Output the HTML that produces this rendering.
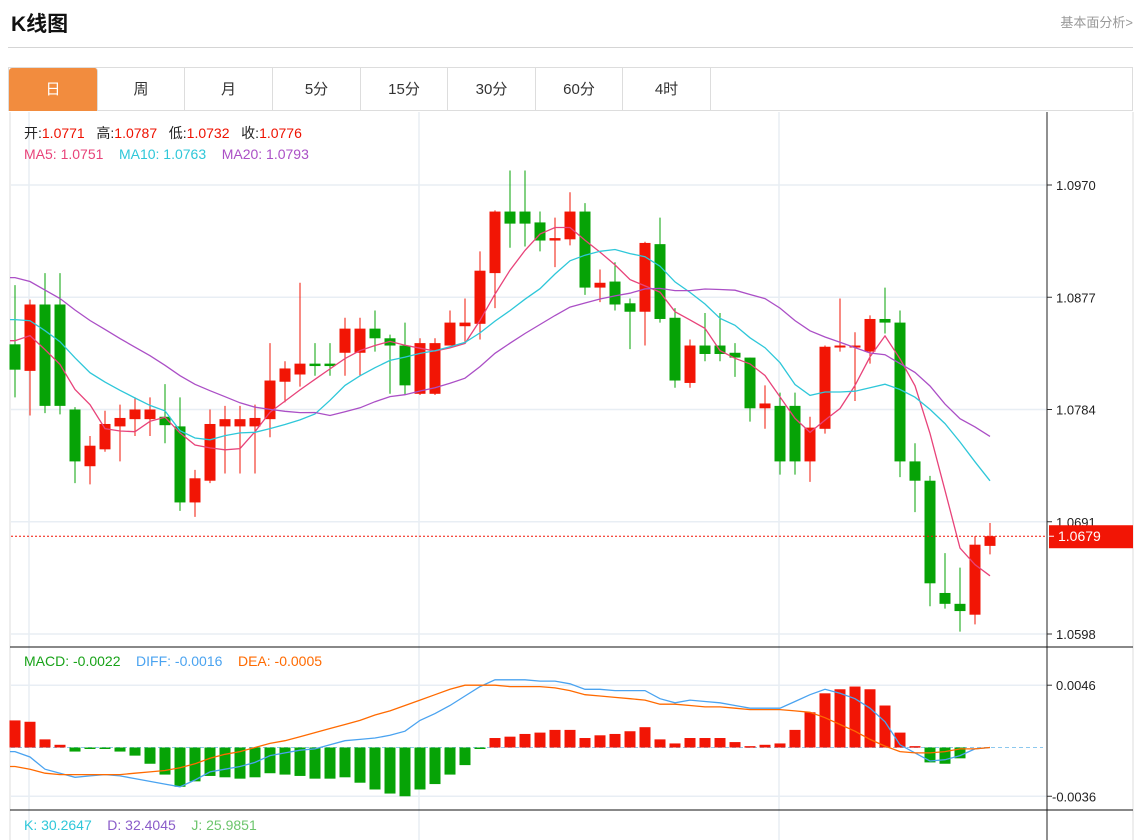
<!DOCTYPE html>
<html><head><meta charset="utf-8"><style>
body{margin:0;width:1137px;height:840px;overflow:hidden;background:#fff;font-family:"Liberation Sans","Noto Sans CJK SC",sans-serif;position:relative}
.t{position:absolute;white-space:nowrap}
.tab{position:absolute;top:68px;height:43px;line-height:43px;text-align:center;font-size:15px;color:#333;border-right:1px solid #ddd;box-sizing:border-box}
</style></head><body>
<div class="t" style="left:11px;top:8px;font-size:21px;font-weight:bold;color:#111">K线图</div>
<div class="t" style="right:4px;top:12px;font-size:13px;color:#999">基本面分析&gt;</div>
<div style="position:absolute;left:8px;top:47px;width:1125px;height:1px;background:#d5d5d5"></div>
<div style="position:absolute;left:8px;top:67px;width:1125px;height:44px;border:1px solid #ddd;box-sizing:border-box"></div>
<div class="tab" style="left:9px;width:89px;background:#f28c3e;color:#fff;border-radius:3px 3px 0 0">日</div>
<div class="tab" style="left:98px;width:87px">周</div>
<div class="tab" style="left:185px;width:88px">月</div>
<div class="tab" style="left:273px;width:88px">5分</div>
<div class="tab" style="left:361px;width:87px">15分</div>
<div class="tab" style="left:448px;width:88px">30分</div>
<div class="tab" style="left:536px;width:87px">60分</div>
<div class="tab" style="left:623px;width:88px">4时</div>
<svg id="c" width="1137" height="840" style="position:absolute;left:0;top:0" xmlns="http://www.w3.org/2000/svg"></svg>
<div class="t" style="left:24px;top:123px;font-size:14px;color:#222">开:<span style="color:#ee1100">1.0771</span>&nbsp;&nbsp; 高:<span style="color:#ee1100">1.0787</span>&nbsp;&nbsp; 低:<span style="color:#ee1100">1.0732</span>&nbsp;&nbsp; 收:<span style="color:#ee1100">1.0776</span></div>
<div class="t" style="left:24px;top:146px;font-size:14px"><span style="color:#e8437a">MA5: 1.0751</span>&nbsp;&nbsp;&nbsp; <span style="color:#2ec7d9">MA10: 1.0763</span>&nbsp;&nbsp;&nbsp; <span style="color:#ab4fc6">MA20: 1.0793</span></div>
<div class="t" style="left:24px;top:653px;font-size:14px"><span style="color:#19a319">MACD: -0.0022</span>&nbsp;&nbsp;&nbsp; <span style="color:#4aa3f0">DIFF: -0.0016</span>&nbsp;&nbsp;&nbsp; <span style="color:#ff6a00">DEA: -0.0005</span></div>
<div class="t" style="left:24px;top:817px;font-size:14px"><span style="color:#2ec7d9">K: 30.2647</span>&nbsp;&nbsp;&nbsp; <span style="color:#8a5cc9">D: 32.4045</span>&nbsp;&nbsp;&nbsp; <span style="color:#6cc56c">J: 25.9851</span></div>
<script>
const opens=[1.0838,1.0816,1.0871,1.0871,1.0784,1.0737,1.0751,1.0770,1.0776,1.0776,1.0778,1.0770,1.0707,1.0725,1.0770,1.0770,1.0770,1.0776,1.0807,1.0813,1.0822,1.0822,1.0831,1.0831,1.0851,1.0843,1.0837,1.0797,1.0797,1.0837,1.0853,1.0855,1.0897,1.0948,1.0948,1.0939,1.0924,1.0925,1.0948,1.0885,1.0890,1.0872,1.0865,1.0921,1.0860,1.0806,1.0837,1.0837,1.0831,1.0827,1.0785,1.0787,1.0787,1.0741,1.0768,1.0836,1.0836,1.0832,1.0859,1.0856,1.0741,1.0725,1.0632,1.0623,1.0614,1.0671];
const highs=[1.0887,1.0875,1.0897,1.0897,1.0786,1.0762,1.0783,1.0788,1.0794,1.0794,1.0805,1.0794,1.0734,1.0784,1.0787,1.0787,1.0788,1.0839,1.0824,1.0889,1.0839,1.0839,1.0860,1.0860,1.0866,1.0846,1.0856,1.0843,1.0843,1.0866,1.0876,1.0915,1.0949,1.0982,1.0982,1.0948,1.0943,1.0964,1.0955,1.0900,1.0906,1.0876,1.0923,1.0943,1.0868,1.0842,1.0864,1.0864,1.0839,1.0827,1.0804,1.0798,1.0798,1.0778,1.0837,1.0876,1.0848,1.0862,1.0885,1.0866,1.0756,1.0729,1.0665,1.0653,1.0679,1.0690];
const lows=[1.0794,1.0779,1.0781,1.0780,1.0723,1.0722,1.0749,1.0741,1.0762,1.0762,1.0756,1.0700,1.0695,1.0723,1.0731,1.0731,1.0731,1.0761,1.0790,1.0803,1.0812,1.0812,1.0812,1.0812,1.0832,1.0797,1.0796,1.0796,1.0796,1.0837,1.0840,1.0842,1.0868,1.0918,1.0919,1.0915,1.0902,1.0920,1.0879,1.0873,1.0866,1.0834,1.0837,1.0856,1.0802,1.0802,1.0824,1.0824,1.0811,1.0774,1.0768,1.0730,1.0730,1.0724,1.0764,1.0832,1.0791,1.0822,1.0847,1.0728,1.0699,1.0621,1.0619,1.0600,1.0606,1.0664];
const closes=[1.0817,1.0871,1.0787,1.0787,1.0741,1.0754,1.0772,1.0777,1.0784,1.0784,1.0771,1.0707,1.0727,1.0772,1.0776,1.0776,1.0777,1.0808,1.0818,1.0822,1.0820,1.0820,1.0851,1.0851,1.0843,1.0837,1.0804,1.0839,1.0839,1.0856,1.0856,1.0899,1.0948,1.0938,1.0938,1.0924,1.0926,1.0948,1.0885,1.0889,1.0871,1.0865,1.0922,1.0859,1.0808,1.0837,1.0830,1.0830,1.0827,1.0785,1.0789,1.0741,1.0741,1.0769,1.0836,1.0837,1.0837,1.0859,1.0856,1.0741,1.0725,1.0640,1.0623,1.0617,1.0672,1.0679];
const priorCloses=[1.0935,1.0930,1.0925,1.0932,1.0928,1.0920,1.0930,1.0926,1.0925,1.0929,1.0880,1.0870,1.0878,1.0875,1.0877,1.0850,1.0845,1.0848,1.0845];
const macdHist=[0.0020,0.0019,0.0006,0.0002,-0.0003,-0.0001,-0.0001,-0.0003,-0.0006,-0.0012,-0.0020,-0.0029,-0.0025,-0.0021,-0.0022,-0.0023,-0.0022,-0.0019,-0.0020,-0.0021,-0.0023,-0.0023,-0.0022,-0.0026,-0.0031,-0.0034,-0.0036,-0.0031,-0.0027,-0.0020,-0.0013,-0.0001,0.0007,0.0008,0.0010,0.0011,0.0013,0.0013,0.0007,0.0009,0.0010,0.0012,0.0015,0.0006,0.0003,0.0007,0.0007,0.0007,0.0004,0.0001,0.0002,0.0003,0.0013,0.0026,0.0040,0.0043,0.0045,0.0043,0.0031,0.0011,0.0001,-0.0011,-0.0012,-0.0008,0,0];
const diffVals=[-0.0003,-0.0007,-0.0016,-0.0019,-0.0022,-0.0021,-0.0020,-0.0021,-0.0023,-0.0025,-0.0027,-0.0029,-0.0024,-0.0018,-0.0016,-0.0014,-0.0011,-0.0006,-0.0004,-0.0002,-0.0001,0.0002,0.0005,0.0006,0.0007,0.0009,0.0012,0.0020,0.0025,0.0031,0.0038,0.0045,0.0050,0.0050,0.0050,0.0049,0.0049,0.0047,0.0043,0.0043,0.0042,0.0042,0.0042,0.0036,0.0033,0.0035,0.0034,0.0033,0.0031,0.0029,0.0029,0.0029,0.0034,0.0039,0.0043,0.0040,0.0036,0.0029,0.0019,0.0002,-0.0004,-0.0010,-0.0009,-0.0006,-0.0001,0];
const deaVals=[-0.0014,-0.0016,-0.0019,-0.0020,-0.0020,-0.0020,-0.0020,-0.0020,-0.0019,-0.0018,-0.0017,-0.0015,-0.0012,-0.0008,-0.0005,-0.0003,0.0000,0.0003,0.0005,0.0008,0.0011,0.0014,0.0017,0.0020,0.0024,0.0027,0.0031,0.0035,0.0039,0.0043,0.0046,0.0046,0.0046,0.0045,0.0045,0.0045,0.0044,0.0042,0.0039,0.0038,0.0037,0.0036,0.0035,0.0032,0.0032,0.0031,0.0030,0.0030,0.0029,0.0028,0.0028,0.0028,0.0027,0.0026,0.0022,0.0017,0.0012,0.0006,0.0001,-0.0003,-0.0004,-0.0004,-0.0003,-0.0001,-0.0001,0];
const priceTicks=[1.0970,1.0877,1.0784,1.0691,1.0598];
const macdTicks=[0.0046,-0.0036];
const lastPrice=1.0679;

const svg=document.getElementById('c');
const NS='http://www.w3.org/2000/svg';
function mk(tag,at,parent){const e=document.createElementNS(NS,tag);for(const k in at)e.setAttribute(k,at[k]);(parent||svg).appendChild(e);return e;}
const xOf=i=>15+15*i;
const yP=p=>185+(1.0970-p)/(1.0970-1.0598)*449;
const yM=v=>747.5-v/0.0046*62.3;
const RED='#f21505',GREEN='#06a306';

let e;
e=mk('line',{x1:10,y1:112,x2:10,y2:840,stroke:'#ddd'});

e=mk('line',{x1:1133,y1:112,x2:1133,y2:840,stroke:'#ddd'});

[29,419,779].forEach(x=>{e=mk('line',{x1:x,y1:112,x2:x,y2:840,stroke:'#e8eef4',"stroke-width":1.5});
});
priceTicks.forEach(p=>{const y=yP(p);
e=mk('line',{x1:11,y1:y,x2:1047,y2:y,stroke:'#e8eef4',"stroke-width":1.5});

e=mk('line',{x1:1047,y1:y,x2:1052,y2:y,stroke:'#333'});

e=mk('text',{x:1056,y:y+5,"font-size":13,fill:'#222'});e.textContent=p.toFixed(4);
});
macdTicks.forEach(v=>{const y=yM(v);
e=mk('line',{x1:11,y1:y,x2:1047,y2:y,stroke:'#e8eef4',"stroke-width":1.5});

e=mk('line',{x1:1047,y1:y,x2:1052,y2:y,stroke:'#333'});

e=mk('text',{x:v<0?1052:1056,y:y+5,"font-size":13,fill:'#222'});e.textContent=v.toFixed(4);
});
e=mk('line',{x1:1047,y1:112,x2:1047,y2:840,stroke:'#222'});

e=mk('line',{x1:10,y1:647,x2:1133,y2:647,stroke:'#111'});

e=mk('line',{x1:10,y1:810,x2:1133,y2:810,stroke:'#111'});


for(let i=0;i<opens.length;i++){
 const up=closes[i]>=opens[i];const col=up?RED:GREEN;const x=xOf(i);
 e=mk('line',{x1:x,y1:yP(highs[i]),x2:x,y2:yP(lows[i]),stroke:col,"stroke-width":1});
 
 const t=yP(Math.max(opens[i],closes[i])),b=yP(Math.min(opens[i],closes[i]));
 e=mk('rect',{x:x-5.5,y:t,width:11,height:Math.max(b-t,2),fill:col});
 
}
const all=priorCloses.concat(closes);
function ma(n){const r=[];for(let i=0;i<closes.length;i++){const j=i+priorCloses.length;let s=0;for(let k=j-n+1;k<=j;k++)s+=all[k];r.push(s/n);}return r;}
[[5,'#e8437a','ma5-line'],[10,'#2ec7d9','ma10-line'],[20,'#ab4fc6','ma20-line']].forEach(([n,c,nm])=>{
 const v=ma(n);const d=v.map((p,i)=>(i?'L':'M')+xOf(i)+','+yP(p).toFixed(1)).join('');
 const dd='M10,'+yP(v[0]).toFixed(1)+d.replace('M','L');
 e=mk('path',{d:dd,fill:'none',stroke:c,"stroke-width":1.3});
 });

e=mk('line',{x1:11,y1:yP(lastPrice),x2:1047,y2:yP(lastPrice),stroke:RED,"stroke-dasharray":'2,2'});

e=mk('rect',{x:1049,y:yP(lastPrice)-11,width:84,height:23,fill:RED});

e=mk('text',{x:1058,y:yP(lastPrice)+5,"font-size":14,fill:'#fff'});e.textContent=lastPrice.toFixed(4);

e=mk('line',{x1:1049,y1:yP(lastPrice),x2:1054,y2:yP(lastPrice),stroke:'#fff'});


const z=yM(0);
e=mk('line',{x1:11,y1:z,x2:1043,y2:z,stroke:'#8cc8ee',"stroke-dasharray":'4,3'});

for(let i=0;i<macdHist.length;i++){const v=macdHist[i];if(v===0)continue;const y=yM(v);
 e=mk('rect',{x:xOf(i)-5.5,y:Math.min(y,z),width:11,height:Math.max(Math.abs(y-z),1.5),fill:v>0?RED:GREEN});
 }
[[diffVals,'#4aa3f0','diff-line'],[deaVals,'#ff6a00','dea-line']].forEach(([arr,c,nm])=>{
 const d='M10,'+yM(arr[0]).toFixed(1)+arr.map((v,i)=>'L'+xOf(i)+','+yM(v).toFixed(1)).join('');
 e=mk('path',{d:d,fill:'none',stroke:c,"stroke-width":1.3});
 });
</script>
</body></html>
